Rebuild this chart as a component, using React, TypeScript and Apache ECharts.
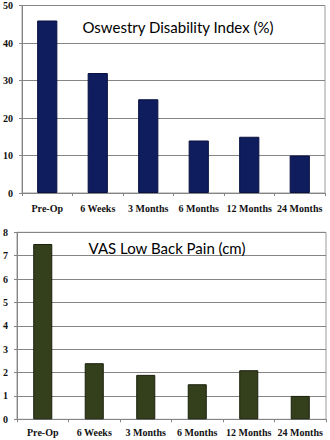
import React, { useEffect, useRef } from "react";
import * as echarts from "echarts";

const categories = ["Pre-Op", "6 Weeks", "3 Months", "6 Months", "12 Months", "24 Months"];
const odiValues = [46, 32, 25, 14, 15, 10];
const vasValues = [7.5, 2.4, 1.9, 1.5, 2.1, 1.0];
const odiTitle = "Oswestry Disability Index (%)";
const vasTitle = "VAS Low Back Pain (cm)";

const serifBold = { fontFamily: "Liberation Serif", fontWeight: "bold" as const, color: "#111" };

export default function App() {
  const ref = useRef<HTMLDivElement>(null);
  useEffect(() => {
    document.body.style.margin = "0";
    const chart = echarts.init(ref.current!, null, { renderer: "svg" });
    const axisLine = { show: true, lineStyle: { color: "#858585", width: 1 } };
    const axisTick = { show: true, length: 3, inside: false, lineStyle: { color: "#858585" } };
    const splitLine = { show: true, lineStyle: { color: "#858585", width: 1 } };
    const titleStyle = { fontFamily: "Lato", fontSize: 15, fontWeight: "normal" as const, color: "#000" };
    chart.setOption({
      animation: false,
      backgroundColor: "#ffffff",
      title: [
        { text: odiTitle, left: 173, top: 14, textAlign: "center", textStyle: titleStyle },
        { text: vasTitle, left: 162, top: 235, textAlign: "center", textStyle: titleStyle },
      ],
      grid: [
        { left: 22, right: 5, top: 5.5, bottom: 247, show: true, borderColor: "#9a9a9a", borderWidth: 1, backgroundColor: "transparent" },
        { left: 17, right: 4, top: 232.3, bottom: 20.7, show: true, borderColor: "#9a9a9a", borderWidth: 1, backgroundColor: "transparent" },
      ],
      xAxis: [
        {
          gridIndex: 0,
          type: "category",
          data: categories,
          axisLine,
          axisTick,
          axisLabel: { ...serifBold, fontSize: 10, margin: 10, interval: 0 },
        },
        {
          gridIndex: 1,
          type: "category",
          data: categories,
          axisLine,
          axisTick,
          axisLabel: { ...serifBold, fontSize: 10, margin: 8, interval: 0 },
        },
      ],
      yAxis: [
        {
          gridIndex: 0,
          type: "value",
          min: 0,
          max: 50,
          interval: 10,
          axisLine,
          axisTick,
          splitLine,
          axisLabel: { ...serifBold, fontSize: 10, margin: 9 },
        },
        {
          gridIndex: 1,
          type: "value",
          min: 0,
          max: 8,
          interval: 1,
          axisLine,
          axisTick,
          splitLine,
          axisLabel: { ...serifBold, fontSize: 10, margin: 9 },
        },
      ],
      series: [
        {
          type: "bar",
          xAxisIndex: 0,
          yAxisIndex: 0,
          data: odiValues,
          barWidth: "40%",
          itemStyle: { color: "#0f1c5e", borderColor: "#08113f", borderWidth: 1 },
        },
        {
          type: "bar",
          xAxisIndex: 1,
          yAxisIndex: 1,
          data: vasValues,
          barWidth: "37%",
          itemStyle: { color: "#343f1c", borderColor: "#1a200c", borderWidth: 1 },
        },
      ],
    });
    return () => chart.dispose();
  }, []);
  return <div ref={ref} style={{ width: 330, height: 440 }} />;
}
